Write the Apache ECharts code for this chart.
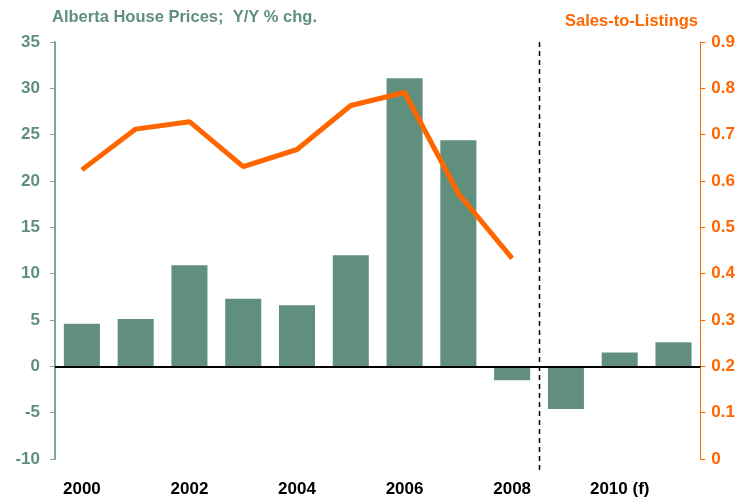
<!DOCTYPE html>
<html>
<head>
<meta charset="utf-8">
<script src="https://cdn.jsdelivr.net/npm/echarts@6/dist/echarts.min.js"></script>
<style>
html, body { margin: 0; padding: 0; background: #fff; }
#chart-0 { width: 738px; height: 501px; }
</style>
</head>
<body>
<div id="chart-0"></div>
<script>
var years = ['2000', '2001', '2002', '2003', '2004', '2005', '2006', '2007', '2008', '2009', '2010 (f)', '2011'];
var housePrices = [4.6, 5.1, 10.9, 7.3, 6.6, 12.0, 31.1, 24.4, -1.5, -4.6, 1.5, 2.6];
var salesToListings = [0.624, 0.712, 0.728, 0.631, 0.668, 0.763, 0.791, 0.573, 0.433];

var green = '#608f7e';
var orange = '#ff6600';
var font = 'Liberation Sans, Arial, sans-serif';

var chart = echarts.init(document.getElementById('chart-0'));
var option = {
    animation: false,
    textStyle: { fontFamily: font },
    title: [{
        text: 'Alberta House Prices;  Y/Y % chg.',
        left: 47,
        top: 4,
        textStyle: { color: green, fontSize: 16.5, fontWeight: 'bold', fontFamily: font }
    }, {
        text: 'Sales-to-Listings',
        right: 35,
        top: 8,
        textStyle: { color: orange, fontSize: 16.5, fontWeight: 'bold', fontFamily: font }
    }],
    grid: { left: 55, right: 35, top: 42, bottom: 42 },
    xAxis: {
        type: 'category',
        data: years,
        axisLine: { show: false },
        axisTick: { show: false },
        axisLabel: {
            interval: 1,
            margin: 22,
            color: '#000',
            fontSize: 17,
            fontWeight: 'bold',
            fontFamily: font
        }
    },
    yAxis: [{
        type: 'value',
        min: -10,
        max: 35,
        interval: 5,
        splitLine: { show: false },
        axisLine: { show: true, lineStyle: { color: '#7fa898', width: 2 } },
        axisTick: { show: true, length: 5, lineStyle: { color: '#7fa898' } },
        axisLabel: { color: green, fontSize: 17, fontWeight: 'bold', margin: 15, fontFamily: font }
    }, {
        type: 'value',
        min: 0,
        max: 0.9,
        interval: 0.1,
        splitLine: { show: false },
        axisLine: { show: true, lineStyle: { color: orange, width: 1 } },
        axisTick: { show: true, length: 5, lineStyle: { color: orange } },
        axisLabel: {
            color: orange, fontSize: 17, fontWeight: 'bold', margin: 11, fontFamily: font,
            formatter: function (v) { return v === 0 ? '0' : v.toFixed(1); }
        }
    }],
    series: [{
        name: 'House Prices',
        type: 'bar',
        data: housePrices,
        barWidth: '67%',
        itemStyle: { color: green },
        markLine: {
            silent: true,
            symbol: 'none',
            label: { show: false },
            lineStyle: { color: '#000', width: 2, type: 'solid' },
            data: [{ yAxis: 0 }]
        }
    }, {
        name: 'Sales-to-Listings',
        type: 'line',
        yAxisIndex: 1,
        data: salesToListings,
        showSymbol: false,
        lineStyle: { color: orange, width: 5 },
        z: 5
    }]
};
chart.setOption(option);

// dashed divider between actuals and forecast
var xa = chart.convertToPixel({ xAxisIndex: 0 }, years[8]);
var xb = chart.convertToPixel({ xAxisIndex: 0 }, years[9]);
var xm = Math.round((xa + xb) / 2) + 0.5;
chart.setOption({
    graphic: [{
        type: 'line',
        shape: { x1: xm, y1: 42, x2: xm, y2: 470 },
        style: { stroke: '#000', lineWidth: 1.5, lineDash: [5, 4] },
        z: 10
    }]
});
</script>
</body>
</html>
